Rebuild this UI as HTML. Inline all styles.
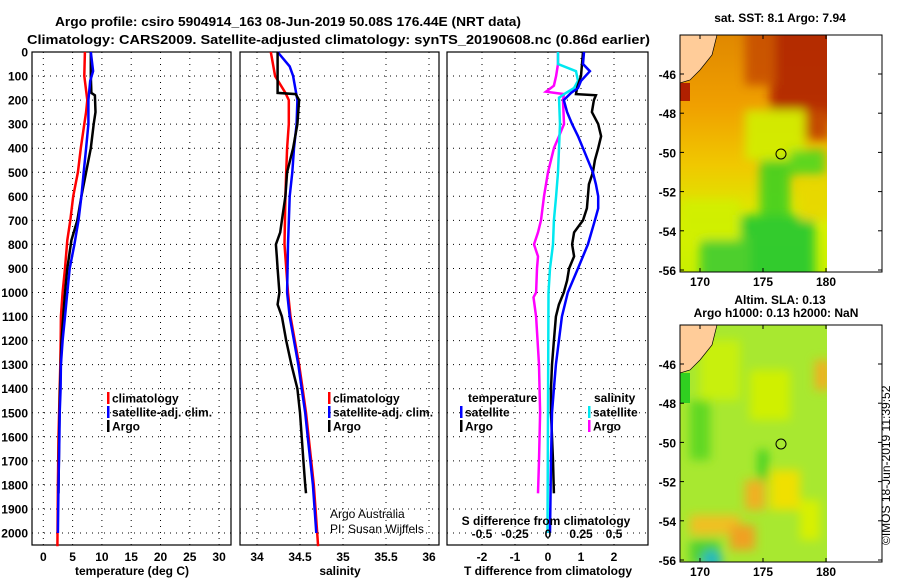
<!DOCTYPE html>
<html><head><meta charset="utf-8">
<style>
html,body{margin:0;padding:0;background:#fff;}
svg{display:block;font-family:"Liberation Sans",sans-serif;}
.t{font-weight:bold;font-size:12.5px;}
.b{font-weight:bold;font-size:12px;}
</style></head>
<body>
<svg id="fig" width="900" height="580" viewBox="0 0 900 580">
<defs>
<filter id="blur3" x="-20%" y="-20%" width="140%" height="140%"><feGaussianBlur stdDeviation="5"/></filter>
<clipPath id="m1clip"><rect x="680" y="35" width="147" height="237"/></clipPath>
<clipPath id="m2clip"><rect x="680" y="325" width="147" height="237"/></clipPath>
<linearGradient id="sstg" x1="0" y1="0" x2="0" y2="1">
 <stop offset="0" stop-color="#e08800"/>
 <stop offset="0.3" stop-color="#f0a000"/>
 <stop offset="0.55" stop-color="#f0c800"/>
 <stop offset="0.8" stop-color="#d8f000"/>
 <stop offset="1" stop-color="#c8f000"/>
</linearGradient>
</defs>
<text class="t" x="55" y="26" textLength="466" lengthAdjust="spacingAndGlyphs">Argo profile: csiro 5904914_163 08-Jun-2019 50.08S 176.44E (NRT data)</text>
<text class="t" x="27" y="44" textLength="623" lengthAdjust="spacingAndGlyphs">Climatology: CARS2009. Satellite-adjusted climatology: synTS_20190608.nc (0.86d earlier)</text>
<g id="panels"></g>
<g id="maps">
 <g clip-path="url(#m1clip)">
  <rect x="680" y="35" width="147" height="237" fill="url(#sstg)"/>
  <g filter="url(#blur3)" opacity="0.9">
   <rect x="770" y="25" width="70" height="95" fill="#b02000"/>
   <rect x="745" y="25" width="30" height="60" fill="#c85000"/>
   <rect x="800" y="110" width="30" height="30" fill="#c04000"/>
   <rect x="745" y="110" width="60" height="50" fill="#d0f000"/>
   <rect x="760" y="160" width="30" height="60" fill="#40d020"/>
   <rect x="740" y="215" width="75" height="70" fill="#20c830"/>
   <rect x="700" y="235" width="50" height="50" fill="#40cc30"/>
   <rect x="790" y="150" width="35" height="25" fill="#50d820"/>
   <rect x="800" y="180" width="30" height="40" fill="#e8d800"/>
   <rect x="680" y="200" width="60" height="40" fill="#d0f000"/>
  </g>
  <rect x="680" y="83" width="10" height="18" fill="#b02000"/>
  <polygon points="680,35 717,35 712,55 700,70 690,80 680,83" fill="#ffcc99" stroke="#000" stroke-width="0.7"/>
 </g>
 <rect x="680" y="35" width="202" height="237" fill="none" stroke="#000" stroke-width="1"/>
 <circle cx="781" cy="154" r="5" fill="none" stroke="#000" stroke-width="1"/>
 <text class="b" x="780" y="22" text-anchor="middle">sat. SST: 8.1 Argo: 7.94</text>
 <g clip-path="url(#m2clip)">
  <rect x="680" y="325" width="147" height="237" fill="#a8e830"/>
  <g filter="url(#blur3)">
   <rect x="700" y="340" width="40" height="60" fill="#c8f010"/>
   <rect x="750" y="370" width="40" height="50" fill="#d0f000"/>
   <rect x="815" y="360" width="15" height="30" fill="#f0b020"/>
   <rect x="690" y="400" width="20" height="60" fill="#60d820"/>
   <rect x="770" y="470" width="30" height="40" fill="#f0e000"/>
   <rect x="745" y="480" width="20" height="30" fill="#f0b020"/>
   <rect x="690" y="515" width="50" height="20" fill="#f0c020"/>
   <rect x="730" y="525" width="25" height="25" fill="#f0a020"/>
   <rect x="690" y="540" width="30" height="25" fill="#50d030"/>
   <circle cx="712" cy="560" r="10" fill="#20b8c0"/>
   <rect x="758" y="450" width="10" height="30" fill="#40d020"/>
   <rect x="800" y="500" width="20" height="40" fill="#d8f000"/>
  </g>
  <rect x="680" y="373" width="10" height="30" fill="#30d020"/>
  <polygon points="680,325 717,325 712,345 700,360 690,370 680,373" fill="#ffcc99" stroke="#000" stroke-width="0.7"/>
 </g>
 <rect x="680" y="325" width="202" height="237" fill="none" stroke="#000" stroke-width="1"/>
 <circle cx="781" cy="444" r="5" fill="none" stroke="#000" stroke-width="1"/>
 <text class="b" x="780" y="304" text-anchor="middle">Altim. SLA: 0.13</text>
 <text class="b" x="776" y="317" text-anchor="middle">Argo h1000: 0.13 h2000: NaN</text>
 <text x="890" y="545" font-size="12" transform="rotate(-90 890 545)">©IMOS 18-Jun-2019 11:39:52</text>
</g>
<g id="mapaxes"></g>
</svg>
<script>
const depthTicks = [0,100,200,300,400,500,600,700,800,900,1000,1100,1200,1300,1400,1500,1600,1700,1800,1900,2000];
const tempTicks = [0,5,10,15,20,25,30];
const salTicks = [34,34.5,35,35.5,36];
const tdiffTicks = [-2,-1,0,1,2];
const sdiffTicks = [-0.5,-0.25,0,0.25,0.5];
const sdiffLabels = ["-0.5","-0.25","0","0.25","0.5"];
const latTicks = [-46,-48,-50,-52,-54,-56];
const lonTicks = [170,175,180];

const tempClimDepth = [0,100,200,250,300,400,500,600,700,783,900,1000,1100,1200,1300,1400,1500,1600,1800,2055];
const tempClim      = [7.1,7.0,7.5,7.3,7.0,6.4,5.9,5.1,4.6,4.1,3.7,3.3,3.0,2.97,2.9,2.8,2.7,2.6,2.5,2.4];
const tempSatDepth  = [0,80,120,200,300,400,500,600,700,800,900,1000,1100,1200,1300,1400,1500,1600,1800,2000];
const tempSat       = [8.1,8.5,8.0,7.7,7.7,7.3,6.9,6.5,6.0,5.3,4.5,4.1,3.7,3.3,3.0,2.95,2.8,2.75,2.6,2.5];
const tempArgoDepth = [0,100,170,180,250,300,400,500,600,700,783,900,1000,1100,1200,1400,1600,1835];
const tempArgo      = [8.1,8.1,8.2,8.8,8.9,8.6,8.1,7.3,6.5,5.8,4.8,4.1,3.7,3.4,3.1,2.85,2.7,2.6];

const salClimDepth = [0,100,170,200,300,400,500,600,800,1000,1100,1200,1300,1400,1500,1600,1700,1800,1900,2000,2055];
const salClim      = [34.16,34.21,34.33,34.37,34.37,34.35,34.34,34.33,34.32,34.36,34.39,34.44,34.49,34.53,34.57,34.60,34.63,34.66,34.68,34.70,34.71];
const salSatDepth  = [0,60,100,200,300,400,500,600,800,1000,1100,1200,1300,1400,1500,1600,1700,1800,1900,2000];
const salSat       = [34.24,34.38,34.42,34.47,34.46,34.43,34.41,34.38,34.36,34.35,34.38,34.43,34.48,34.52,34.56,34.59,34.62,34.65,34.67,34.69];
const salArgoDepth = [0,170,175,200,300,400,500,600,700,750,800,850,900,1000,1050,1100,1200,1300,1400,1500,1600,1700,1800,1835];
const salArgo      = [34.24,34.24,34.45,34.49,34.47,34.42,34.35,34.33,34.29,34.27,34.22,34.23,34.24,34.26,34.24,34.29,34.34,34.40,34.47,34.50,34.52,34.54,34.56,34.57];

const tdArgoDepth = [0,100,150,175,180,200,250,300,350,400,450,500,550,600,650,700,750,800,850,900,950,1000,1050,1100,1200,1300,1400,1500,1600,1700,1835];
const tdArgo      = [1.06,1.0,0.88,0.85,1.45,1.39,1.33,1.52,1.61,1.52,1.42,1.36,1.24,1.21,1.18,1.06,0.79,0.73,0.79,0.64,0.58,0.48,0.33,0.24,0.18,0.12,0.09,0.09,0.12,0.15,0.18];
const tdSatDepth  = [0,50,80,120,150,170,200,250,300,350,400,450,500,550,600,650,700,800,900,1000,1100,1200,1300,1400,1500,1700,2000];
const tdSat       = [1.09,1.06,1.27,1.0,0.91,0.7,0.48,0.58,0.73,0.91,1.06,1.21,1.36,1.45,1.52,1.52,1.42,1.21,0.91,0.6,0.42,0.33,0.24,0.18,0.12,0.09,0.06];
const sdSatDepth  = [0,50,80,120,150,170,190,300,400,500,600,700,800,900,1000,1500,2000];
const sdSat       = [0.076,0.076,0.212,0.227,0.197,0.136,0.083,0.091,0.083,0.076,0.061,0.045,0.038,0.015,0.004,0,-0.004];
const sdArgoDepth = [0,50,100,140,165,175,200,300,350,400,500,600,700,750,800,850,900,1000,1020,1100,1300,1500,1700,1835];
const sdArgo      = [0.076,0.076,0.061,0.045,-0.015,0.121,0.114,0.121,0.083,0.045,0,-0.03,-0.053,-0.076,-0.106,-0.076,-0.083,-0.09,-0.11,-0.09,-0.068,-0.06,-0.068,-0.076];

const NS = 'http://www.w3.org/2000/svg';
const TOP = 52, BOT = 545;
const yD = d => 52 + d * 0.2405;
const xT = v => 43.3 + v * 5.86;
const xS = v => 257 + (v - 34) * 86;
const xTD = v => 548 + v * 33;
const xSD = v => 548 + v * 132;
const yLat1 = v => 74 + (-46 - v) * 19.6;
const yLat2 = v => 364 + (-46 - v) * 19.6;
const xLon = v => 700 + (v - 170) * 12.6;

function mk(tag, attrs, parent){ const e=document.createElementNS(NS,tag); for(const k in attrs) e.setAttribute(k,attrs[k]); parent.appendChild(e); return e; }
const P = document.getElementById('panels');

const panels = [
 {x0:32,x1:231,name:'temperature-panel',ticks:tempTicks,fx:xT,labels:tempTicks.map(String),title:'temperature (deg C)',tx:132},
 {x0:240,x1:439,name:'salinity-panel',ticks:salTicks,fx:xS,labels:salTicks.map(String),title:'salinity',tx:340},
 {x0:447,x1:648,name:'difference-panel',ticks:tdiffTicks,fx:xTD,labels:tdiffTicks.map(String),title:'T difference from climatology',tx:548}
];
panels.forEach((p,pi)=>{
 const g = mk('g',{},P);
 
 
 depthTicks.forEach(d=>{
  const l = mk('line',{x1:p.x0,x2:p.x1,y1:yD(d),y2:yD(d),stroke:'#000','stroke-width':1,'stroke-dasharray':'1 5'},g);
  
  
 });
 p.ticks.forEach((v,i)=>{
  const x = p.fx(v);
  const l = mk('line',{x1:x,x2:x,y1:TOP,y2:BOT,stroke:'#000','stroke-width':1,'stroke-dasharray':'1 5'},g);
  
  
  const t = mk('text',{x:x,y:561,'text-anchor':'middle','class':'b'},g);
  t.textContent = p.labels[i];
  
  
 });
 const fr = mk('rect',{x:p.x0,y:TOP,width:p.x1-p.x0,height:BOT-TOP,fill:'none',stroke:'#000','stroke-width':1.2},g);
 
 
 const at = mk('text',{x:p.tx,y:575,'text-anchor':'middle','class':'b'},g);
 at.textContent = p.title;
 
 
});
depthTicks.forEach(d=>{
 const t = mk('text',{x:28,y:yD(d)+4.5,'text-anchor':'end','class':'b'},P);
 t.textContent = d;
 
 
});

function series(depths, vals, fx, color, name, w){
 const pts = depths.map((d,i)=>fx(vals[i]).toFixed(1)+','+yD(d).toFixed(1)).join(' ');
 const pl = mk('polyline',{points:pts,fill:'none',stroke:color,'stroke-width':w||2.5,'stroke-linejoin':'miter'},P);
 
 
}
series(tempClimDepth,tempClim,xT,'#ff0000','temp-climatology-line');
series(tempArgoDepth,tempArgo,xT,'#000000','temp-argo-line');
series(tempSatDepth,tempSat,xT,'#0000ff','temp-satellite-line');
series(salClimDepth,salClim,xS,'#ff0000','sal-climatology-line');
series(salSatDepth,salSat,xS,'#0000ff','sal-satellite-line');
series(salArgoDepth,salArgo,xS,'#000000','sal-argo-line');
series(sdArgoDepth,sdArgo,xSD,'#ff00ff','sdiff-argo-line');
series(sdSatDepth,sdSat,xSD,'#00e8f0','sdiff-satellite-line');
series(tdArgoDepth,tdArgo,xTD,'#000000','tdiff-argo-line');
series(tdSatDepth,tdSat,xTD,'#0000ff','tdiff-satellite-line');

function legRow(x,y,color,label,name){
 const r = mk('rect',{x:x,y:y-6,width:2.5,height:12,fill:color},P);
 
 
 if(label){
  const t = mk('text',{x:x+5,y:y+4.5,'class':'b'},P);
  t.textContent = label;
  
  
 }
}
legRow(107,398,'#ff0000','climatology','legend-temp-climatology');
legRow(107,412,'#0000ff','satellite-adj. clim.','legend-temp-satellite');
legRow(107,426,'#000000','Argo','legend-temp-argo');
legRow(328,398,'#ff0000','climatology','legend-sal-climatology');
legRow(328,412,'#0000ff','satellite-adj. clim.','legend-sal-satellite');
legRow(328,426,'#000000','Argo','legend-sal-argo');
(function(){
 const t1 = mk('text',{x:468,y:402,'class':'b'},P); t1.textContent='temperature';
 
 
 const t2 = mk('text',{x:594,y:402,'class':'b'},P); t2.textContent='salinity';
 
 
})();
legRow(460,412,'#0000ff','satellite','legend-tdiff-satellite');
legRow(460,426,'#000000','Argo','legend-tdiff-argo');
legRow(588,412,'#00e8f0','satellite','legend-sdiff-satellite');
legRow(588,426,'#ff00ff','Argo','legend-sdiff-argo');

(function(){
 const t = mk('text',{x:546,y:525,'text-anchor':'middle','class':'b'},P);
 t.textContent='S difference from climatology';
 
 
 sdiffTicks.forEach((v,i)=>{
  const s = mk('text',{x:xSD(v),y:538,'text-anchor':'middle','class':'b'},P);
  s.textContent = sdiffLabels[i];
  
  
 });
 const a = mk('text',{x:330,y:518,'font-size':'12'},P); a.textContent='Argo Australia';
 
 
 const b = mk('text',{x:330,y:533,'font-size':'12'},P); b.textContent='PI: Susan Wijffels';
 
 
})();

const MA = document.getElementById('mapaxes');
[[yLat1,35,272],[yLat2,325,562]].forEach(([fy,top,bot],mi)=>{
 latTicks.forEach(v=>{
  const y = fy(v);
  mk('line',{x1:680,x2:684,y1:y,y2:y,stroke:'#000'},MA);
  mk('line',{x1:878,x2:882,y1:y,y2:y,stroke:'#000'},MA);
  const t = mk('text',{x:676,y:y+5,'text-anchor':'end','class':'b','font-size':'13'},MA);
  t.textContent = v;
  
  
 });
 lonTicks.forEach(v=>{
  const x = xLon(v);
  mk('line',{x1:x,x2:x,y1:top,y2:top+4,stroke:'#000'},MA);
  mk('line',{x1:x,x2:x,y1:bot-4,y2:bot,stroke:'#000'},MA);
  const t = mk('text',{x:x,y:bot+14,'text-anchor':'middle','class':'b','font-size':'13'},MA);
  t.textContent = v;
  
  
 });
});
</script>
</body></html>
